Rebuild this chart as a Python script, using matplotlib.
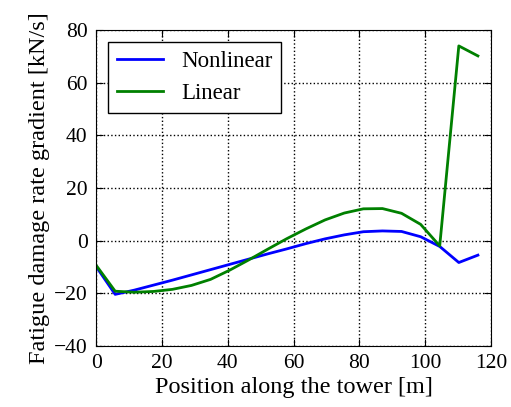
import numpy as np
import matplotlib
matplotlib.use('Agg')
import matplotlib.pyplot as plt

plt.rcParams['font.family'] = ['Liberation Serif', 'DejaVu Serif']
plt.rcParams['mathtext.fontset'] = 'stix'

position = [0, 5.8, 11.6, 17.4, 23.2, 29.0, 34.8, 40.6, 46.4, 52.2, 58.0,
            63.8, 69.6, 75.4, 81.2, 87.0, 92.8, 98.6, 104.4, 110.2, 116.0]
nonlinear = [-9.8, -20.4, -18.8, -16.9, -15.0, -13.0, -11.0, -9.0, -7.0, -5.0, -3.1,
             -1.1, 0.7, 2.2, 3.4, 3.7, 3.5, 1.5, -2.2, -8.3, -5.5]
linear = [-9.3, -19.2, -19.6, -19.3, -18.5, -17.0, -14.7, -11.2, -7.3, -3.2, 0.8,
          4.5, 7.9, 10.5, 12.1, 12.2, 10.4, 6.2, -2.0, 74.0, 70.2]

fig = plt.figure(figsize=(5.11, 4.07), dpi=100)
ax = fig.add_axes([0.188, 0.150, 0.773, 0.776])

ax.plot(position, nonlinear, color='blue', linewidth=2, label='Nonlinear')
ax.plot(position, linear, color='green', linewidth=2, label='Linear')

ax.set_xlim(0, 120)
ax.set_ylim(-40, 80)
ax.set_xticks(np.arange(0, 121, 20))
ax.set_yticks(np.arange(-40, 81, 20))
ax.grid(True, color='black', linestyle=':', linewidth=1)
ax.tick_params(direction='in', top=True, right=True, labelsize=15.5, length=5, pad=6)
ax.set_xlabel('Position along the tower [m]', fontsize=17.5, labelpad=3)
ax.set_ylabel('Fatigue damage rate gradient [kN/s]', fontsize=17.5, labelpad=3)

leg = ax.legend(loc='upper left', fontsize=16.5, fancybox=False, framealpha=1,
                edgecolor='black', handlelength=2.0, borderaxespad=0.5)
leg.get_frame().set_linewidth(1)

fig.savefig('out.png', dpi=100)
